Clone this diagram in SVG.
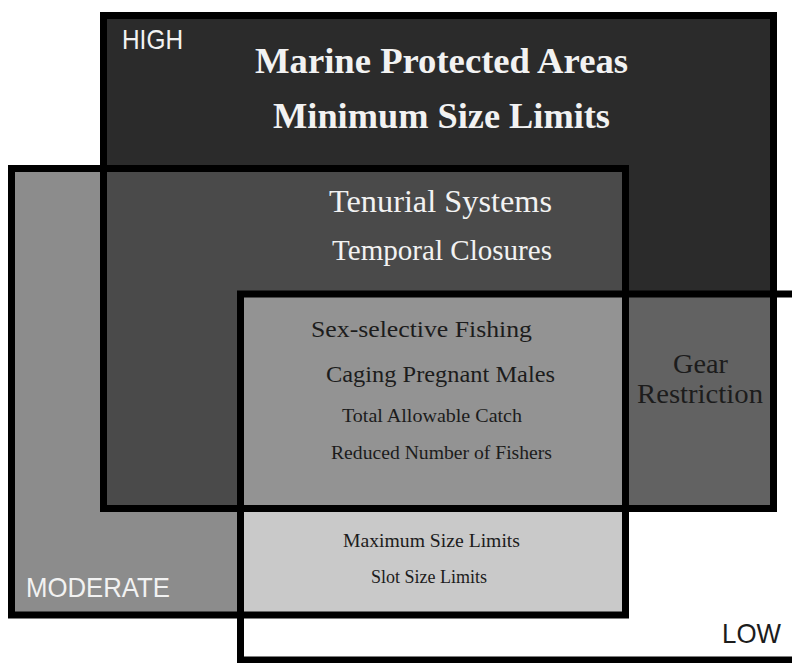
<svg xmlns="http://www.w3.org/2000/svg" width="792" height="663" viewBox="0 0 792 663">
<style>
.frame{fill:none;stroke:#000;stroke-width:7}
.sans{font-family:"Liberation Sans",Arial,sans-serif;font-size:28px}
.serif{font-family:"Liberation Serif","Times New Roman",serif}
.lt{fill:#f2f2f2}
.dk{fill:#1c1c1c}
.b{font-weight:bold}
</style>
<rect width="792" height="663" fill="#fff"/>
<g id="low-fill"><rect x="240.5" y="294" width="560" height="366" fill="#fff"/></g>
<g id="moderate-fill"><rect x="11.5" y="168.5" width="614" height="446.5" fill="#8c8c8c"/></g>
<g id="high-fill"><rect x="103.5" y="15.5" width="670" height="493" fill="#2b2b2b"/></g>
<g id="overlaps">
<rect x="103.5" y="168.5" width="522" height="340" fill="#4a4a4a"/>
<rect x="240.5" y="294" width="533" height="214.5" fill="#626262"/>
<rect x="240.5" y="294" width="385" height="321" fill="#c9c9c9"/>
<rect x="240.5" y="294" width="385" height="214.5" fill="#939393"/>
</g>
<g id="high">
<rect class="frame" x="103.5" y="15.5" width="670" height="493"/>
<text class="sans lt" x="122" y="49" textLength="61" lengthAdjust="spacingAndGlyphs">HIGH</text>
<text class="serif b lt" x="255" y="73" font-size="35" textLength="373" lengthAdjust="spacingAndGlyphs">Marine Protected Areas</text>
<text class="serif b lt" x="273" y="128" font-size="35" textLength="337" lengthAdjust="spacingAndGlyphs">Minimum Size Limits</text>
</g>
<g id="moderate">
<rect class="frame" x="11.5" y="168.5" width="614" height="446.5"/>
<text class="sans lt" x="26" y="597" textLength="144" lengthAdjust="spacingAndGlyphs">MODERATE</text>
</g>
<g id="low">
<path class="frame" d="M800 294 H240.5 V660 H800"/>
<text class="sans dk" x="722" y="643" textLength="59" lengthAdjust="spacingAndGlyphs">LOW</text>
</g>
<g id="high-moderate">
<text class="serif lt" x="329" y="212" font-size="31" textLength="223" lengthAdjust="spacingAndGlyphs">Tenurial Systems</text>
<text class="serif lt" x="332" y="260" font-size="29" textLength="220" lengthAdjust="spacingAndGlyphs">Temporal Closures</text>
</g>
<g id="high-moderate-low">
<text class="serif dk" x="311" y="337" font-size="24" textLength="221" lengthAdjust="spacingAndGlyphs">Sex-selective Fishing</text>
<text class="serif dk" x="326" y="382" font-size="24" textLength="229" lengthAdjust="spacingAndGlyphs">Caging Pregnant Males</text>
<text class="serif dk" x="342" y="422" font-size="19" textLength="180" lengthAdjust="spacingAndGlyphs">Total Allowable Catch</text>
<text class="serif dk" x="331" y="459" font-size="19" textLength="221" lengthAdjust="spacingAndGlyphs">Reduced Number of Fishers</text>
</g>
<g id="high-low">
<text class="serif dk" x="700.5" y="373" font-size="28" text-anchor="middle" textLength="55" lengthAdjust="spacingAndGlyphs">Gear</text>
<text class="serif dk" x="700" y="403" font-size="28" text-anchor="middle" textLength="126" lengthAdjust="spacingAndGlyphs">Restriction</text>
</g>
<g id="moderate-low">
<text class="serif dk" x="343" y="547" font-size="18" textLength="177" lengthAdjust="spacingAndGlyphs">Maximum Size Limits</text>
<text class="serif dk" x="371" y="583" font-size="18" textLength="116" lengthAdjust="spacingAndGlyphs">Slot Size Limits</text>
</g>
<g id="connectors"/>
</svg>
